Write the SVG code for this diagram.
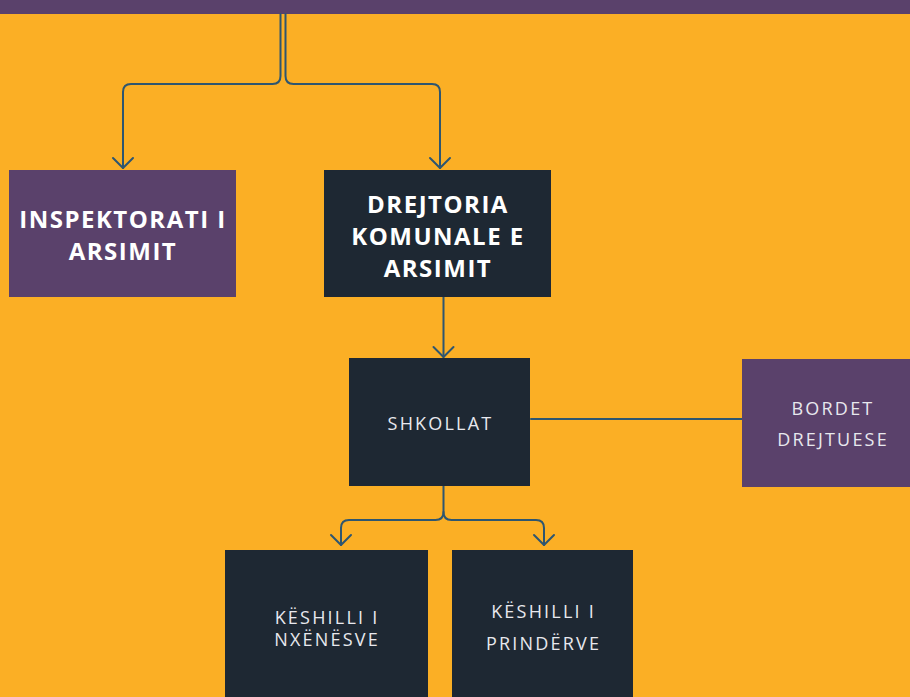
<svg xmlns="http://www.w3.org/2000/svg" width="910" height="697" viewBox="0 0 910 697">
<defs>
<style>
.bg{fill:#FBAF25}
.purple{fill:#5A416B}
.dark{fill:#1E2833}
.conn{fill:none;stroke:#2E5670;stroke-width:2;stroke-linecap:round;stroke-linejoin:round}
.b{font-family:"Open Sans","Liberation Sans",sans-serif;font-weight:700;font-size:24px;fill:#FFFFFF;text-anchor:middle;letter-spacing:1.5px}
.r{font-family:"Open Sans","Liberation Sans",sans-serif;font-weight:400;font-size:18px;fill:#E8E8EE;text-anchor:middle;letter-spacing:2.2px}
</style>
</defs>
<rect class="bg" x="0" y="0" width="910" height="697"/>
<g id="top-bar"><rect class="purple" x="0" y="0" width="910" height="14"/></g>
<g id="connectors">
<path class="conn" d="M280.5 14 V76 Q280.5 84 272.5 84 H131 Q123 84 123 92 V168"/>
<path class="conn" d="M113 158 L123 168 L133 158"/>
<path class="conn" d="M285.5 14 V76 Q285.5 84 293.5 84 H432 Q440 84 440 92 V168"/>
<path class="conn" d="M430 158 L440 168 L450 158"/>
<path class="conn" d="M443.5 297 V357"/>
<path class="conn" d="M433.5 347 L443.5 357 L453.5 347"/>
<path class="conn" d="M443.5 486 V512 Q443.5 520 435.5 520 H349 Q341 520 341 528 V545"/>
<path class="conn" d="M331 535 L341 545 L351 535"/>
<path class="conn" d="M443.5 512 Q443.5 520 451.5 520 H536 Q544 520 544 528 V545"/>
<path class="conn" d="M534 535 L544 545 L554 535"/>
<path class="conn" d="M531 419 H742"/>
</g>
<g id="inspektorati">
<rect class="purple" x="9" y="170" width="227" height="127"/>
<text class="b" x="123" y="228">INSPEKTORATI I</text>
<text class="b" x="123" y="260">ARSIMIT</text>
</g>
<g id="drejtoria">
<rect class="dark" x="324" y="170" width="227" height="127"/>
<text class="b" x="438" y="213">DREJTORIA</text>
<text class="b" x="438" y="245">KOMUNALE E</text>
<text class="b" x="438" y="277">ARSIMIT</text>
</g>
<g id="shkollat">
<rect class="dark" x="349" y="358" width="181" height="128"/>
<text class="r" x="440.5" y="430">SHKOLLAT</text>
</g>
<g id="bordet">
<rect class="purple" x="742" y="359" width="168" height="128"/>
<text class="r" x="833" y="415">BORDET</text>
<text class="r" x="833" y="446">DREJTUESE</text>
</g>
<g id="keshilli-nxenesve">
<rect class="dark" x="225" y="550" width="203" height="147"/>
<text class="r" x="327" y="624">KËSHILLI I</text>
<text class="r" x="327" y="646">NXËNËSVE</text>
</g>
<g id="keshilli-prinderve">
<rect class="dark" x="452" y="550" width="181" height="147"/>
<text class="r" x="543.5" y="618">KËSHILLI I</text>
<text class="r" x="543.5" y="650">PRINDËRVE</text>
</g>
</svg>
